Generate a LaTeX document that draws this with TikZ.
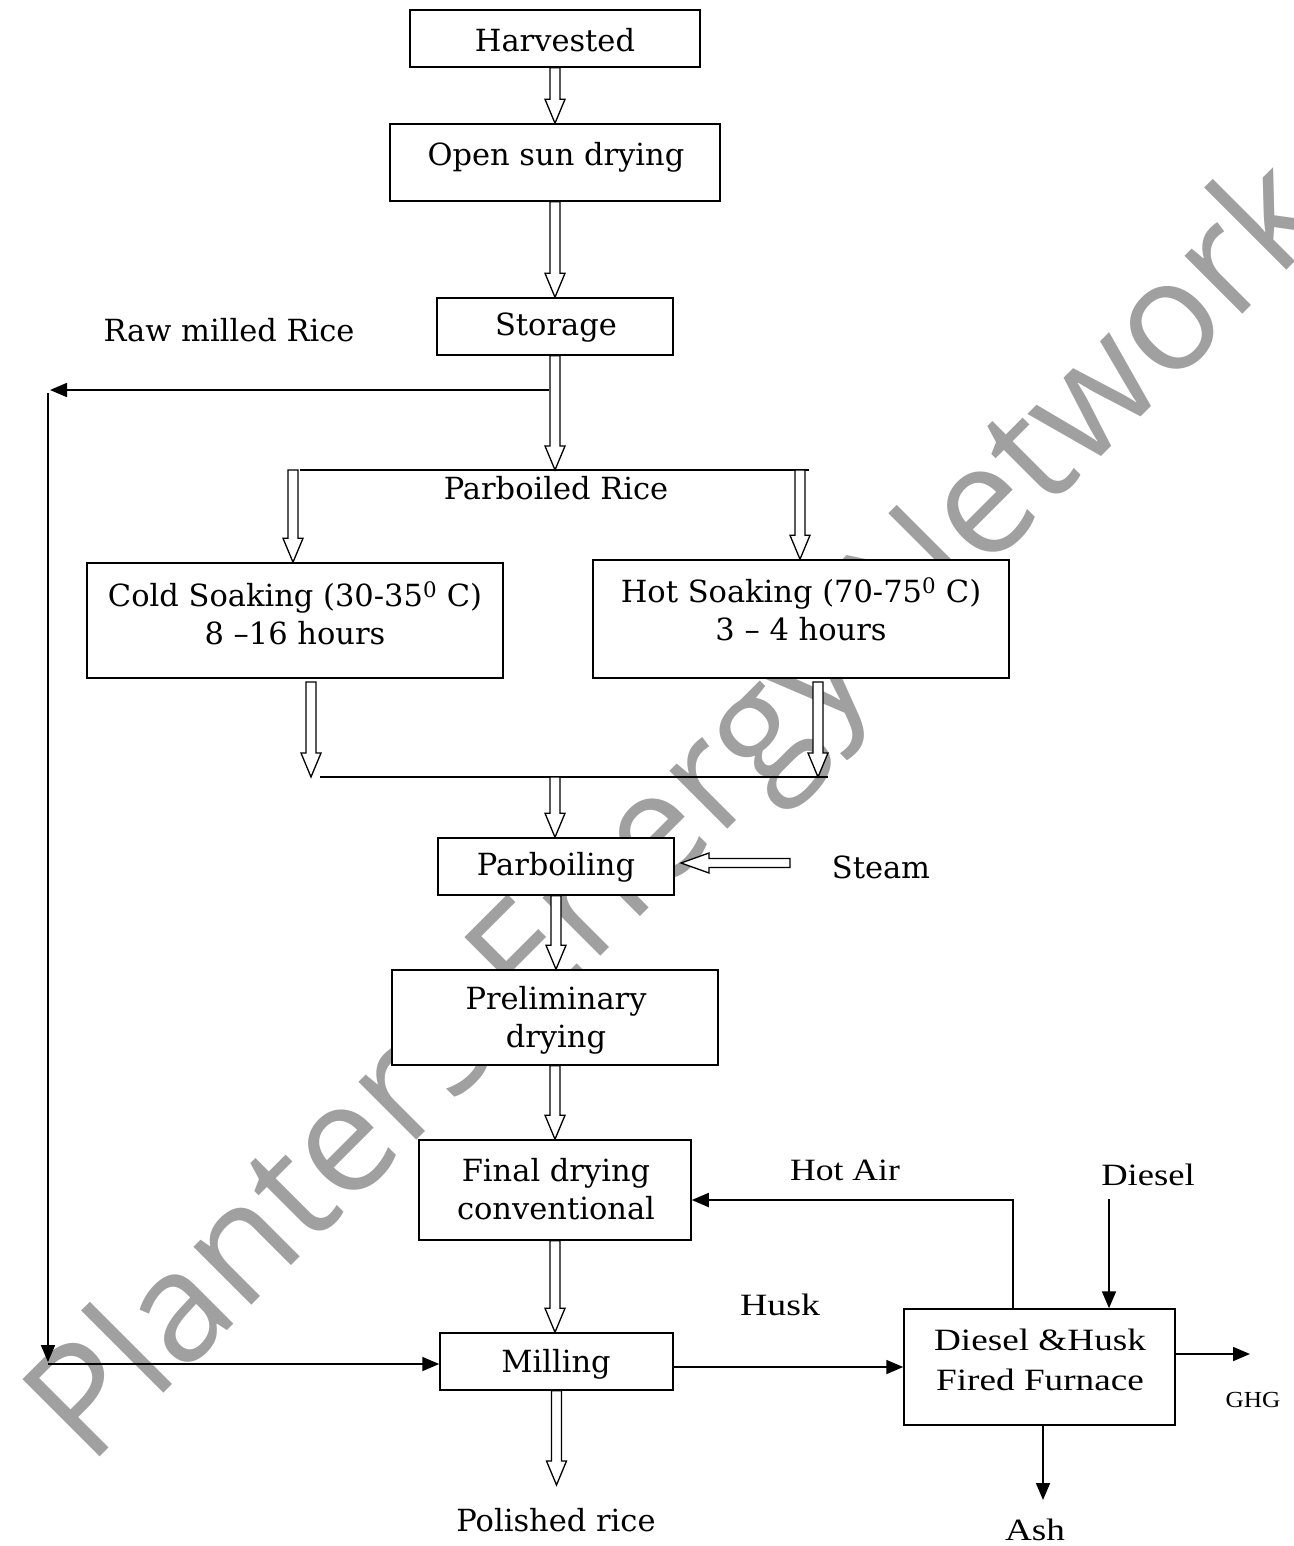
\documentclass[tikz,border=0pt]{standalone}
\usepackage{fontspec}
\usepackage{graphicx}
\setmainfont{DejaVu Serif}
\newfontfamily\timesf{Liberation Serif}
\newfontfamily\wmfont{Open Sans}
\usetikzlibrary{arrows.meta,calc}
\definecolor{wmgray}{HTML}{A0A0A0}
\begin{document}
\begin{tikzpicture}[x=1pt,y=-1pt,
  box/.style={draw,fill=white,line width=1.5pt,inner sep=0pt},
  txt/.style={font=\fontsize{30.5}{38}\selectfont,inner sep=0pt,align=center},
  tms/.style={font=\timesf\fontsize{31}{40}\selectfont,inner sep=0pt,align=center},
  plain/.style={line width=1.5pt},
  arr/.style={line width=1.8pt,-{Triangle[length=17pt,width=14pt]}},
  dbl/.style={draw,line width=1.3pt,fill=white,
    to path={let \p1=(\tikztostart),\p2=(\tikztotarget) in
      (\x1-5pt,\y1) -- (\x1-5pt,\y2+24pt) -- (\x1-10pt,\y2+24pt) -- (\x1,\y2)
      -- (\x1+10pt,\y2+24pt) -- (\x1+5pt,\y2+24pt) -- (\x1+5pt,\y1) -- cycle}},
  dblleft/.style={draw,line width=1.3pt,fill=white,
    to path={let \p1=(\tikztostart),\p2=(\tikztotarget) in
      (\x1,\y1-4.5pt) -- (\x2+28pt,\y1-4.5pt) -- (\x2+28pt,\y1-10pt) -- (\x2,\y1)
      -- (\x2+28pt,\y1+10pt) -- (\x2+28pt,\y1+4.5pt) -- (\x1,\y1+4.5pt) -- cycle}}
]
\useasboundingbox (0,0) rectangle (1293,1546);
\fill[white] (0,0) rectangle (1293,1546);

% watermark
\node[text=wmgray,font=\wmfont\fontsize{153}{153}\selectfont,rotate=45,inner sep=0pt] (wm) at (684,817) {Planters Energy Network};

% boxes
\node[box,minimum width=290pt,minimum height=57pt] (harv) at (555,38.5) {};
\node[txt] (harvT) at (555,40) {Harvested};
\node[box,minimum width=330pt,minimum height=77pt] (sun) at (555,162.5) {};
\node[txt] (sunT) at (556,157) {Open sun drying};
\node[box,minimum width=236pt,minimum height=57pt] (stor) at (555,326.5) {};
\node[txt] (storT) at (556,328) {Storage};
\node[txt] (raw) at (229,330) {Raw milled Rice};
\node[txt] (pr) at (556,488) {Parboiled Rice};

\node[box,minimum width=416pt,minimum height=115pt] (cold) at (295,620.5) {};
\node[txt] (coldT) at (295,613) {Cold Soaking (30-35\textsuperscript{0} C)\\8 –16 hours};
\node[box,minimum width=416pt,minimum height=118pt] (hot) at (801,619) {};
\node[txt] (hotT) at (801,609.5) {Hot Soaking (70-75\textsuperscript{0} C)\\3 – 4 hours};

\node[box,minimum width=236pt,minimum height=57pt] (parb) at (556,866.5) {};
\node[txt] (parbT) at (556,867) {Parboiling};
\node[txt] (steam) at (881,867) {Steam};

\node[box,minimum width=326pt,minimum height=95pt] (prel) at (555,1017.5) {};
\node[txt] (prelT) at (556,1020) {Preliminary\\drying};
\node[box,minimum width=272pt,minimum height=100pt] (final) at (555,1190) {};
\node[txt] (finalT) at (556,1189.5) {Final drying\\conventional};
\node[box,minimum width=233pt,minimum height=57pt] (mill) at (556.5,1361.5) {};
\node[txt] (millT) at (556,1364) {Milling};
\node[txt] (pol) at (556,1520) {Polished rice};

\node[box,minimum width=271pt,minimum height=116pt] (furn) at (1039.5,1367) {};
\node[tms] (furnT) at (1040,1360) {\scalebox{1.2}[1]{Diesel \&Husk}\\\scalebox{1.2}[1]{Fired Furnace}};
\node[tms] (hotair) at (845,1170) {\scalebox{1.15}[1]{Hot Air}};
\node[tms] (diesel) at (1148,1175) {\scalebox{1.18}[1]{Diesel}};
\node[tms] (husk) at (780,1305) {\scalebox{1.22}[1]{Husk}};
\node[tms] (ash) at (1035,1530) {\scalebox{1.2}[1]{Ash}};
\node[font=\timesf\fontsize{23}{28}\selectfont,inner sep=0pt] (ghg) at (1253,1400) {\scalebox{1.1}[1]{GHG}};

% coordinates
\coordinate (prsplit) at (555,470);
\coordinate (prl) at (300,470);
\coordinate (prr) at (809,470);
\coordinate (pla) at (293,470);
\coordinate (pra) at (800,470);
\coordinate (cdown) at (311,682);
\coordinate (hdown) at (818,682);
\coordinate (cmerge) at (311,777);
\coordinate (hmerge) at (818,777);
\coordinate (ml) at (320,777);
\coordinate (mr) at (828,777);
\coordinate (mc) at (555,777);
\coordinate (stS) at (790,863);
\coordinate (stT) at (681,863);
\coordinate (rawa) at (549,390);
\coordinate (rawb) at (50,390);
\coordinate (vtop) at (48,393);
\coordinate (vbot) at (48,1362);
\coordinate (hleft) at (48,1364);
\coordinate (polT) at (555,1485);
\coordinate (ha) at (1013,1200);
\coordinate (dsl) at (1109,1199);
\coordinate (hk) at (673,1367);
\coordinate (ghgA) at (1175,1354);
\coordinate (ghgB) at (1250,1354);
\coordinate (ashB) at (1043,1500);

% double arrows
\draw[dbl] (harv.south) to (sun.north);
\draw[dbl] (sun.south) to (stor.north);
\draw[dbl] (stor.south) to (prsplit);
\draw[plain] (prl) -- (prr);
\draw[dbl] (pla) to (pla |- cold.north);
\draw[dbl] (pra) to (pra |- hot.north);
\draw[dbl] (cdown) to (cmerge);
\draw[dbl] (hdown) to (hmerge);
\draw[plain] (ml) -- (mr);
\draw[dbl] (mc) to (parb.north);
\draw[dblleft] (stS) to (stT);
\draw[dbl] (parb.south) to (prel.north);
\draw[dbl] (prel.south) to (final.north);
\draw[dbl] (final.south) to (mill.north);
\draw[dbl] (mill.south) to (polT);

% solid arrows
\draw[arr] (rawa) -- (rawb);
\draw[arr] (vtop) -- (vbot);
\draw[arr] (hleft) -- (hleft -| mill.west);
\draw[arr] (ha |- furn.north) -- (ha) -- (ha -| final.east);
\draw[arr] (dsl) -- (dsl |- furn.north);
\draw[arr] (hk) -- (hk -| furn.west);
\draw[arr] (ghgA) -- (ghgB);
\draw[arr] (ashB |- furn.south) -- (ashB);
\end{tikzpicture}
\end{document}
